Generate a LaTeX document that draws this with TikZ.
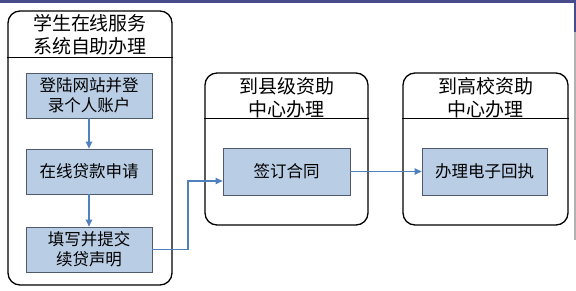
\documentclass[tikz,border=0pt]{standalone}
\usepackage{fontspec}
\newfontfamily\cjk{Noto Sans CJK SC}
\usetikzlibrary{arrows.meta,positioning,calc}
\definecolor{boxfill}{RGB}{185,205,229}
\definecolor{boxline}{RGB}{80,90,110}
\definecolor{arrowc}{RGB}{79,129,189}
\definecolor{topbar}{RGB}{72,76,140}
\tikzset{
  panel/.style={draw=black, line width=1.3pt, rounded corners=12pt, inner sep=0pt},
  paneltitle/.style={font=\cjk\fontsize{19}{23}\selectfont, align=center, inner sep=0pt},
  stepbox/.style={draw=boxline, line width=0.8pt, fill=boxfill, inner sep=0pt,
    font=\cjk\fontsize{16.5}{20}\selectfont, align=center},
  flow/.style={draw=arrowc, line width=1.2pt, -{Triangle[length=7pt,width=6.5pt]}},
  sep/.style={draw=black, line width=0.8pt}
}
\begin{document}
\begin{tikzpicture}[x=1pt,y=-1pt]
\useasboundingbox (0,0) rectangle (576,291);
\fill[white] (0,0) rectangle (576,291);
\fill[topbar] (0,0) rectangle (576,3);
\draw[gray!60, line width=1.2pt] (575,3) -- (575,240);
\draw[topbar, line width=1.2pt] (575,3) -- (575,32);

% panels
\node[panel, minimum width=164pt, minimum height=274pt] (p1) at (90,148) {};
\node[panel, minimum width=163pt, minimum height=152pt] (p2) at (286.5,149) {};
\node[panel, minimum width=165pt, minimum height=152pt] (p3) at (485.5,149) {};
\draw[sep] (p1.west |- 0,57) -- (p1.east |- 0,57);
\draw[sep] (p2.west |- 0,118) -- (p2.east |- 0,118);
\draw[sep] (p3.west |- 0,118) -- (p3.east |- 0,118);

\node[paneltitle] (t1) at (90,35) {学生在线服务\\系统自助办理};
\node[paneltitle] (t2) at (286.5,98) {到县级资助\\中心办理};
\node[paneltitle] (t3) at (485.5,98) {到高校资助\\中心办理};

% steps
\node[stepbox, minimum width=126pt, minimum height=45pt] (b1) at (89,95.5) {登陆网站并登\\录个人账户};
\node[stepbox, minimum width=126pt, minimum height=45pt] (b2) at (89,171.5) {在线贷款申请};
\node[stepbox, minimum width=126pt, minimum height=45pt] (b3) at (89,249.5) {填写并提交\\续贷声明};
\node[stepbox, minimum width=127pt, minimum height=47pt] (b4) at (286.5,171.5) {签订合同};
\node[stepbox, minimum width=125pt, minimum height=47pt] (b5) at (484.5,171.5) {办理电子回执};

\coordinate (j) at (188,181);
\draw[flow] (b1) -- (b2);
\draw[flow] (b2) -- (b3);
\draw[flow] (b3.east) -| (j) -- (j -| b4.west);
\draw[flow] (b4) -- (b5);
\end{tikzpicture}
\end{document}
